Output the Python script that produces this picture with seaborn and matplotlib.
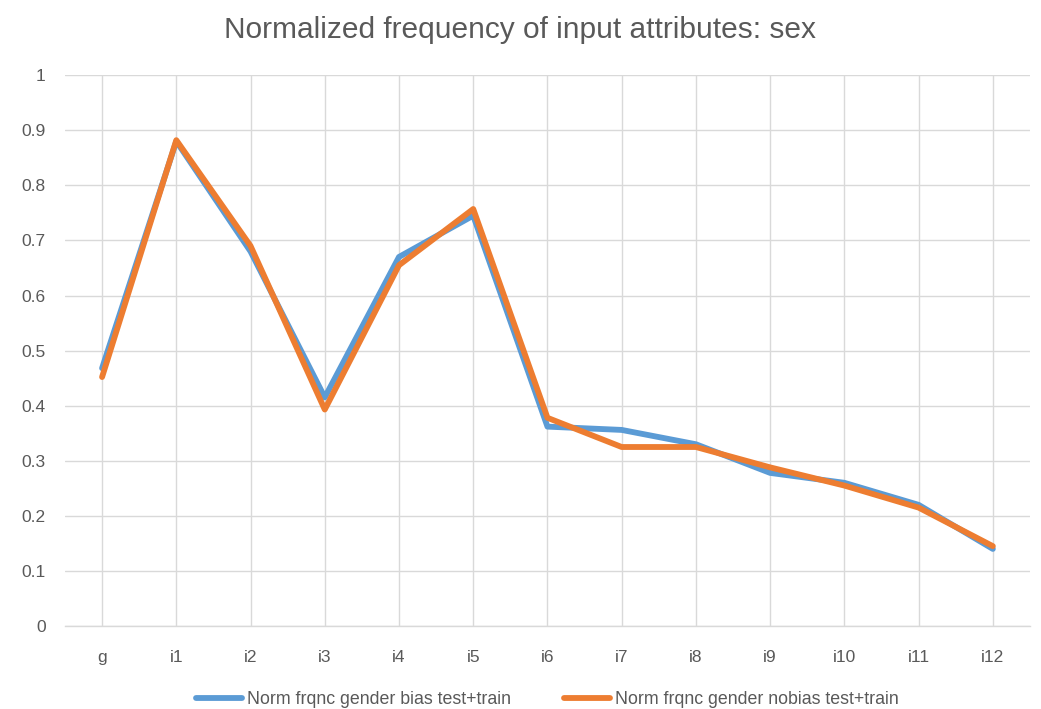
import matplotlib
matplotlib.use("Agg")
import matplotlib.pyplot as plt
import numpy as np
import pandas as pd
import seaborn as sns

# values
categories = ["g", "i1", "i2", "i3", "i4", "i5", "i6", "i7", "i8", "i9", "i10", "i11", "i12"]
bias = [0.468, 0.880, 0.680, 0.415, 0.670, 0.745, 0.362, 0.356, 0.330, 0.278, 0.260, 0.220, 0.140]
nobias = [0.452, 0.882, 0.690, 0.393, 0.655, 0.757, 0.378, 0.325, 0.325, 0.288, 0.255, 0.215, 0.145]
series_names = ["Norm frqnc gender bias test+train", "Norm frqnc gender nobias test+train"]
y_ticks = [0, 0.1, 0.2, 0.3, 0.4, 0.5, 0.6, 0.7, 0.8, 0.9, 1]
y_tick_labels = ["0", "0.1", "0.2", "0.3", "0.4", "0.5", "0.6", "0.7", "0.8", "0.9", "1"]

df = pd.DataFrame(
    {
        "attr": categories * 2,
        "freq": bias + nobias,
        "series": [series_names[0]] * len(categories) + [series_names[1]] * len(categories),
    }
)
df["pos"] = df["attr"].map({c: i for i, c in enumerate(categories)})

sns.set_theme(style="white")
plt.rcParams["font.family"] = ["Liberation Sans", "DejaVu Sans"]
text_grey = "#595959"
grid_grey = "#D9D9D9"

fig = plt.figure(figsize=(10.41, 7.09), dpi=100)
ax = fig.add_axes([0.0624, 0.117, 0.927, 0.777])

sns.lineplot(
    data=df,
    x="pos",
    y="freq",
    hue="series",
    palette=["#5B9BD5", "#ED7D31"],
    linewidth=4.2,
    sort=False,
    ax=ax,
    legend=True,
)

ax.set_xlim(-0.5, len(categories) - 0.5)
ax.set_ylim(0, 1)
ax.set_xticks(range(len(categories)))
ax.set_xticklabels(categories)
ax.set_yticks(y_ticks)
ax.set_yticklabels(y_tick_labels)
ax.tick_params(axis="both", length=0, labelsize=12.5, colors=text_grey)
ax.tick_params(axis="x", pad=17)
ax.tick_params(axis="y", pad=14)
ax.grid(True, color=grid_grey, linewidth=1)
ax.set_axisbelow(True)
for side in ["top", "right", "left"]:
    ax.spines[side].set_visible(False)
ax.spines["bottom"].set_color(grid_grey)
ax.spines["bottom"].set_linewidth(1)
ax.set_xlabel("")
ax.set_ylabel("")

fig.suptitle("Normalized frequency of input attributes: sex", y=0.978, fontsize=21.5, color=text_grey)

handles, labels = ax.get_legend_handles_labels()
ax.legend(
    handles,
    labels,
    loc="center",
    bbox_to_anchor=(0.5, -0.133),
    ncol=2,
    frameon=False,
    fontsize=12.8,
    labelcolor=text_grey,
    handlelength=2.6,
    handletextpad=0.25,
    columnspacing=3.0,
)

fig.savefig("out.png", dpi=100)
